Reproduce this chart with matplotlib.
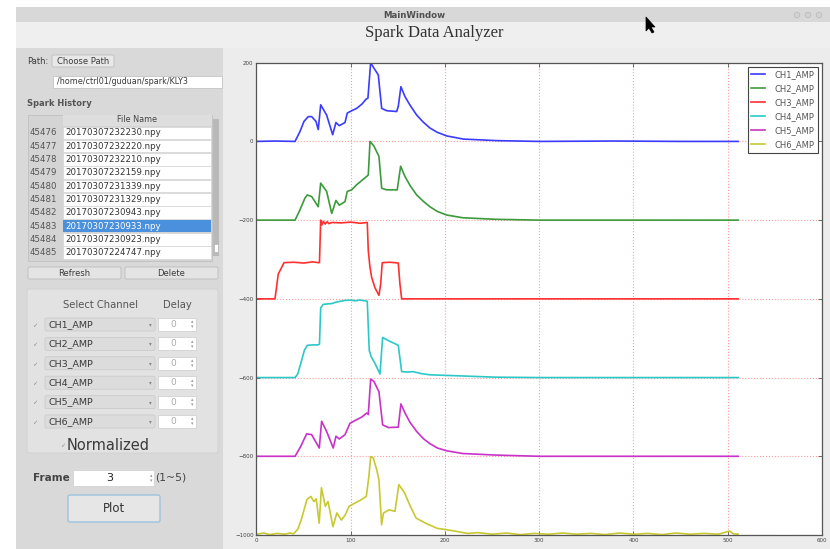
import numpy as np
import matplotlib.pyplot as plt
from matplotlib.patches import Rectangle, FancyBboxPatch, Polygon, Circle

W, H = 830, 549

# ========== data: normalized waveforms (0~200) ==========
channels = ['CH1_AMP', 'CH2_AMP', 'CH3_AMP', 'CH4_AMP', 'CH5_AMP', 'CH6_AMP']
colors = ['#3b3bff', '#3c9a3c', '#ff3030', '#2cc8c8', '#c832c8', '#c8c832']
offsets = [0, -200, -400, -600, -800, -1000]

ch1 = [(0, 0), (20, 1), (41, 0), (46.2, 25), (50.5, 51), (55, 63), (58.6, 63), (63.2, 51),
       (65.6, 30), (68.2, 93), (74.5, 67), (80.9, 17), (84.4, 48), (87.9, 40), (94, 48),
       (96.4, 72), (101.1, 78), (106.4, 84), (112, 95), (116.2, 107), (118.3, 110),
       (121.2, 200), (124.7, 186), (129.3, 169), (132.9, 84), (138.2, 78), (148.8, 76),
       (150.5, 89), (153.3, 139), (157.6, 114), (163, 92), (170, 67), (177, 49), (184.1, 34),
       (192, 23), (201.8, 14), (219.4, 6), (254.8, 2), (300, 0), (380, 1), (450, 0), (511, 0)]
ch2 = [(0, 0), (41, 0), (46.2, 26), (51.5, 56), (54, 64), (58.6, 60), (63.2, 43), (65.6, 34),
       (68.2, 94), (74.5, 73), (79.9, 17), (84.4, 50), (87.9, 38), (94, 47), (96.4, 73),
       (101.1, 77), (106.4, 90), (117, 111), (118.7, 115), (120.5, 200), (124.7, 188),
       (130, 162), (132.9, 81), (138.2, 77), (149.4, 77), (153, 137), (157.6, 111), (163, 88),
       (170, 64), (177, 48), (184.1, 34), (192, 22), (201.8, 13), (219, 6), (254.8, 2),
       (300, 0), (511, 0)]
ch3 = [(0, 0), (19.7, 0), (23.2, 63), (29.3, 92), (40, 93), (50, 91), (60, 94), (65.6, 92),
       (66.9, 92), (68.2, 200), (69.5, 188), (71, 197), (73, 190), (75, 196), (77, 191),
       (80, 194), (90, 193), (100, 195), (110, 192), (117.6, 194), (118.7, 122), (120.5, 80),
       (122.3, 54), (125.8, 28), (130, 9), (131.8, 37), (133.5, 92), (142, 93), (150.5, 91),
       (152.3, 37), (154.1, 0), (300, 0), (511, 0)]
ch4 = [(0, 0), (41, 0), (44, 10), (48, 44), (51, 70), (54, 82), (60, 83), (65.6, 83),
       (66.9, 85), (68.2, 177), (70.9, 186), (75, 187), (80, 188), (85, 192), (90, 194),
       (94, 196), (100, 197), (105, 195), (110, 197), (117.6, 194), (119.7, 69), (122, 52),
       (125.8, 36), (131.1, 9), (133.9, 102), (139.9, 94), (150.5, 82), (154.1, 15), (160, 14),
       (166.4, 15), (175, 10), (184.1, 7), (219, 4), (254, 1), (300, 0), (511, 0)]
ch5 = [(0, 0), (41, 0), (47, 25), (53.3, 57), (58.6, 55), (66.7, 21), (69.2, 89), (74.5, 63),
       (81.5, 21), (84.4, 51), (87.9, 44), (94, 55), (99.3, 84), (106.4, 93), (112, 100),
       (117, 110), (118.7, 106), (121.2, 196), (124.7, 190), (130, 164), (133.9, 80),
       (139.9, 73), (150.5, 74), (153.3, 133), (157.6, 110), (163, 86), (170, 63), (177, 45),
       (184.1, 32), (192, 21), (201.8, 14), (219, 7), (254.8, 3), (300, 0), (511, 0)]
ch6 = [(0, 2), (8, 5), (14, 1), (22, 4), (30, 2), (36, 5), (39.4, 3), (44, 15), (47.5, 38),
       (53.6, 90), (57.7, 98), (61, 85), (63.5, 92), (66.6, 30), (69, 120), (73.1, 73), (76, 85),
       (81.2, 21), (85.3, 56), (90.2, 38), (94.2, 51), (98.3, 73), (104.4, 81), (110, 88),
       (116.6, 98), (119.4, 150), (121.2, 199), (124, 196), (127.6, 166), (130, 140),
       (132.8, 26), (134.8, 56), (141, 64), (147, 60), (151.1, 128), (157.2, 107), (163.3, 73),
       (169.4, 43), (179.5, 30), (191.7, 17), (208, 11), (224, 4), (235, 6), (250, 2), (265, 5),
       (280, 1), (295, 4), (310, 2), (325, 5), (340, 2), (355, 4), (370, 1), (385, 5), (400, 2),
       (415, 4), (430, 1), (445, 5), (460, 2), (475, 4), (490, 2), (502, 10), (506, 3), (511, 2)]
waves = [ch1, ch2, ch3, ch4, ch5, ch6]

# ========== GUI side panel content ==========
row_ids = ['45476', '45477', '45478', '45479', '45480', '45481', '45482', '45483', '45484', '45485']
file_names = ['20170307232230.npy', '20170307232220.npy', '20170307232210.npy',
              '20170307232159.npy', '20170307231339.npy', '20170307231329.npy',
              '20170307230943.npy', '20170307230933.npy', '20170307230923.npy',
              '20170307224747.npy']
selected_row = 7
path_text = '/home/ctrl01/guduan/spark/KLY3'
xticks = [0, 100, 200, 300, 400, 500, 600]
yticks = [200, 0, -200, -400, -600, -800, -1000]

fig = plt.figure(figsize=(W / 100, H / 100), dpi=100)
fig.patch.set_facecolor('white')

bg = fig.add_axes([0, 0, 1, 1], zorder=0)
bg.set_xlim(0, W)
bg.set_ylim(H, 0)
bg.axis('off')


def rect(x0, y0, x1, y1, fc, ec='none', lw=0.6, rnd=0):
    if rnd:
        p = FancyBboxPatch((x0, y0), x1 - x0, y1 - y0, boxstyle=f'round,pad=0,rounding_size={rnd}',
                           fc=fc, ec=ec, lw=lw)
    else:
        p = Rectangle((x0, y0), x1 - x0, y1 - y0, fc=fc, ec=ec, lw=lw)
    bg.add_patch(p)


def txt(x, y, s, size=6, color='#3a3a3a', ha='left', weight='normal', family='DejaVu Sans'):
    bg.text(x, y, s, fontsize=size, color=color, ha=ha, va='center', fontweight=weight,
            family=family)


# window frame / title bar
rect(16, 7, W, 22, '#d8d8d8')
rect(16, 22, W, H, '#efefef')
txt(414, 15, 'MainWindow', size=6.2, color='#505050', ha='center', weight='bold')
for cx in [797, 808, 819]:
    bg.add_patch(Circle((cx, 15), 2.8, fc='#d2d2d2', ec='#b8b8b8', lw=0.5))
txt(434, 33, 'Spark Data Analyzer', size=12, color='#333333', ha='center', family='Liberation Serif')

# mouse cursor
bg.add_patch(Polygon([(646, 17), (646, 31), (649, 28), (652, 33), (654, 32), (651, 27), (655, 27)],
                     closed=True, fc='black', ec='black', lw=0.5))

# panels
rect(16, 48, 223, H, '#d9d9d9')
rect(223, 48, W, H, '#ececec')

# path row
txt(27, 61, 'Path:', size=6)
rect(52, 55, 114, 67, '#e8e8e8', ec='#bdbdbd', lw=0.6, rnd=1.5)
txt(83, 61, 'Choose Path', size=6, ha='center')
rect(53, 76, 222, 88, 'white', ec='#c4c4c4', lw=0.6)
txt(57, 82, path_text, size=5.8)
txt(27, 104, 'Spark History', size=6, color='#555555', weight='semibold')

# table
rect(28, 115, 212, 261, '#d4d4d4', ec='#c0c0c0', lw=0.6)
rect(63, 115, 212, 126, '#dedede')
txt(137, 120, 'File Name', size=5.9, ha='center', color='#444444')
for i, (rid, fn) in enumerate(zip(row_ids, file_names)):
    y0 = 126 + i * 13.33
    yc = y0 + 6.7
    if i == selected_row:
        rect(63, y0 + 0.5, 211, y0 + 13, '#4a90dc')
        fcol = 'white'
    else:
        rect(63, y0 + 0.5, 211, y0 + 13, 'white', ec='#d0d0d0', lw=0.4)
        fcol = '#333333'
    txt(30, yc, rid, size=6.2, color='#555555')
    txt(65, yc, fn, size=6.2, color=fcol)
# scrollbar
rect(213, 119, 218.5, 256, '#b9b9b9')
rect(213.5, 244, 218, 252, 'white', ec='#aaaaaa', lw=0.4)

# refresh / delete
rect(28, 267, 121, 279, '#e4e4e4', ec='#bcbcbc', lw=0.6, rnd=1.5)
txt(74.5, 273, 'Refresh', size=6, ha='center')
rect(125, 267, 218, 279, '#e4e4e4', ec='#bcbcbc', lw=0.6, rnd=1.5)
txt(171.5, 273, 'Delete', size=6, ha='center')

# channel group box
rect(27, 289, 218, 453, '#e2e2e2', ec='#d0d0d0', lw=0.6, rnd=2)
txt(100, 305, 'Select Channel', size=7.2, ha='center', color='#555555')
txt(177, 305, 'Delay', size=7.2, ha='center', color='#555555')
for i, ch in enumerate(channels):
    yc = 324.5 + i * 19.4
    txt(35, yc + 1, '\u2713', size=4.5, ha='center', color='#8a8a8a')
    rect(45, yc - 6.5, 155, yc + 6.5, '#dcdcdc', ec='#c8c8c8', lw=0.5, rnd=1.5)
    txt(48, yc, ch, size=6.8, color='#3a3a3a')
    txt(150, yc, '\u25be', size=4, ha='center', color='#888888')
    rect(158, yc - 6.5, 196, yc + 6.5, 'white', ec='#cccccc', lw=0.5)
    txt(173, yc, '0', size=6.5, ha='center', color='#aaaaaa')
    txt(192, yc - 2.5, '\u25b4', size=3.5, ha='center', color='#999999')
    txt(192, yc + 2.5, '\u25be', size=3.5, ha='center', color='#999999')
txt(63, 446, '\u2713', size=4.5, ha='center', color='#8a8a8a')
txt(67, 445, 'Normalized', size=10.5, color='#3a3a3a')

# frame spin box and plot button
txt(33, 478, 'Frame', size=7.5, weight='bold', color='#444444')
rect(73, 470, 154, 486, 'white', ec='#cfcfcf', lw=0.5)
txt(110, 478, '3', size=8, ha='center', color='#222222')
txt(151, 475.5, '\u25b4', size=3.5, ha='center', color='#999999')
txt(151, 480.5, '\u25be', size=3.5, ha='center', color='#999999')
txt(155, 478, '(1~5)', size=7.8, color='#444444')
rect(68, 495, 160, 522, '#e6e6e6', ec='#9cc3dc', lw=1.0, rnd=2)
txt(114, 508, 'Plot', size=8.5, ha='center', color='#333333')

# ========== plot area ==========
ax = fig.add_axes([256.4 / W, 1 - 535 / H, 565.6 / W, 472.3 / H], zorder=1)
ax.set_facecolor('white')
for wave, off, col, name in zip(waves, offsets, colors, channels):
    arr = np.array(wave, dtype=float)
    ax.plot(arr[:, 0], arr[:, 1] + off, color=col, lw=1.2, label=name)

ax.set_xlim(0, 600)
ax.set_ylim(-1000, 200)
ax.set_xticks(xticks)
ax.set_yticks(yticks)
ax.tick_params(direction='in', top=True, right=True, length=3, width=0.6,
               labelsize=4, labelcolor='#444444', color='#555555', pad=2)
ax.grid(True, color='#ff9c9c', linestyle=':', linewidth=0.8)
for s in ax.spines.values():
    s.set_color('#555555')
    s.set_linewidth(0.9)

leg = ax.legend(loc='upper right', bbox_to_anchor=(0.993, 0.991), borderaxespad=0,
                fontsize=6, handlelength=1.6, handletextpad=1.2, labelspacing=0.6,
                borderpad=0.4, fancybox=False, framealpha=1)
leg.get_frame().set_edgecolor('#444444')
leg.get_frame().set_linewidth(0.8)
for t in leg.get_texts():
    t.set_color('#555555')

plt.savefig('out.png', dpi=100)
